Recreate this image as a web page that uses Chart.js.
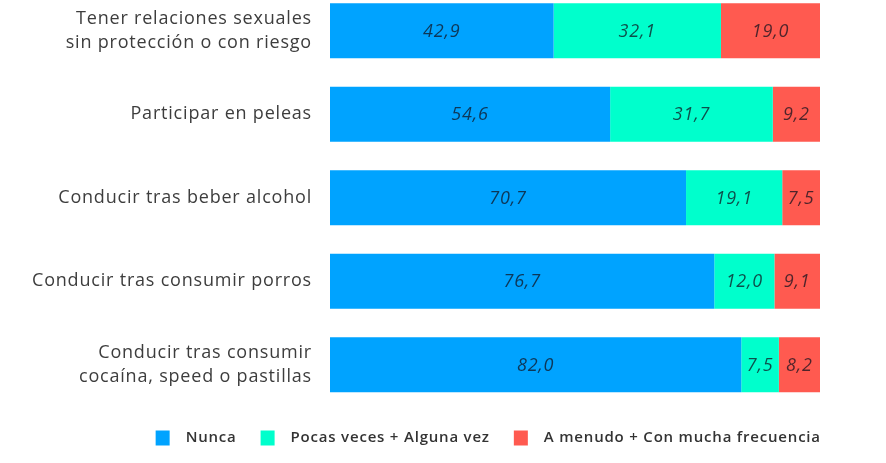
<!DOCTYPE html>
<html>
<head>
<meta charset="utf-8">
<script src="https://cdn.jsdelivr.net/npm/chart.js@4.4.1/dist/chart.umd.min.js"></script>
<style>
  html, body { margin: 0; padding: 0; background: #ffffff; overflow: hidden; width: 886px; height: 463px; }
  #wrap { position: absolute; left: 0; top: -11px; width: 886px; height: 475px; }
</style>
</head>
<body>
<div id="wrap"><canvas id="c" width="886" height="475"></canvas></div>
<script>
const categories = [
  ["Tener relaciones sexuales", "sin protección o con riesgo"],
  "Participar en peleas",
  "Conducir tras beber alcohol",
  "Conducir tras consumir porros",
  ["Conducir tras consumir", "cocaína, speed o pastillas"]
];
const seriesNames = ["Nunca", "Pocas veces + Alguna vez", "A menudo + Con mucha frecuencia"];
const nunca  = [42.9, 54.6, 70.7, 76.7, 82.0];
const pocas  = [32.1, 31.7, 19.1, 12.0, 7.5];
const menudo = [19.0, 9.2, 7.5, 9.1, 8.2];
const colors = ["#00a3ff", "#00ffcc", "#ff5a50"];

const rawSeries = [nunca, pocas, menudo];
const totals = categories.map((_, i) => nunca[i] + pocas[i] + menudo[i]);
const share = arr => arr.map((v, i) => v / totals[i] * 100);

const FONT = "'Open Sans', 'Noto Sans', sans-serif";
const SPACING = '0.8px';

const spacingPlugin = {
  id: 'spacing',
  beforeUpdate(chart) { chart.ctx.letterSpacing = SPACING; },
  beforeLayout(chart) { chart.ctx.letterSpacing = SPACING; },
  beforeDraw(chart) { chart.ctx.letterSpacing = SPACING; },
  afterLayout(chart) {
    const lg = chart.legend;
    if (lg) { lg.left = 84; lg.right = 884; }
  }
};

const valueLabels = {
  id: 'valueLabels',
  afterDatasetsDraw(chart) {
    const ctx = chart.ctx;
    ctx.save();
    ctx.letterSpacing = SPACING;
    ctx.font = "italic 18px " + FONT;
    ctx.textAlign = 'center';
    ctx.textBaseline = 'middle';
    ctx.fillStyle = 'rgba(18,18,30,0.74)';
    chart.data.datasets.forEach((ds, di) => {
      const meta = chart.getDatasetMeta(di);
      meta.data.forEach((el, i) => {
        const p = el.getProps(['x', 'y', 'base'], true);
        const v = rawSeries[di][i];
        ctx.fillText(v.toFixed(1).replace('.', ','), (p.x + p.base) / 2, p.y + 1);
      });
    });
    ctx.restore();
  }
};

new Chart(document.getElementById('c'), {
  type: 'bar',
  data: {
    labels: categories,
    datasets: seriesNames.map((name, k) => ({
      label: name,
      data: share(rawSeries[k]),
      backgroundColor: colors[k],
      borderWidth: 0,
      categoryPercentage: 0.66,
      barPercentage: 1.0
    }))
  },
  options: {
    indexAxis: 'y',
    responsive: false,
    animation: false,
    devicePixelRatio: 1,
    layout: { padding: { left: 0, right: 66, top: 0, bottom: 0 } },
    scales: {
      x: { stacked: true, min: 0, max: 100, display: false },
      y: {
        stacked: true,
        grid: { display: false, drawTicks: false },
        border: { display: false },
        ticks: {
          padding: 18,
          color: '#3d3d3d',
          font: { family: FONT, size: 18, lineHeight: 1.33 }
        },
        afterFit(scale) {
          scale.width = 330;
          scale.paddingTop = 0;
          scale.paddingBottom = 0;
        }
      }
    },
    plugins: {
      tooltip: { enabled: false },
      legend: {
        position: 'bottom',
        align: 'center',
        labels: {
          boxWidth: 31,
          boxHeight: 32,
          padding: 15.5,
          color: '#333333',
          font: { family: FONT, size: 15, weight: '600' },
          generateLabels(chart) {
            return chart.data.datasets.map((ds, i) => ({
              text: ds.label,
              fillStyle: ds.backgroundColor,
              strokeStyle: '#ffffff',
              lineWidth: 17,
              hidden: false,
              datasetIndex: i,
              fontColor: '#333333'
            }));
          }
        }
      }
    }
  },
  plugins: [spacingPlugin, valueLabels]
});
</script>
</body>
</html>
